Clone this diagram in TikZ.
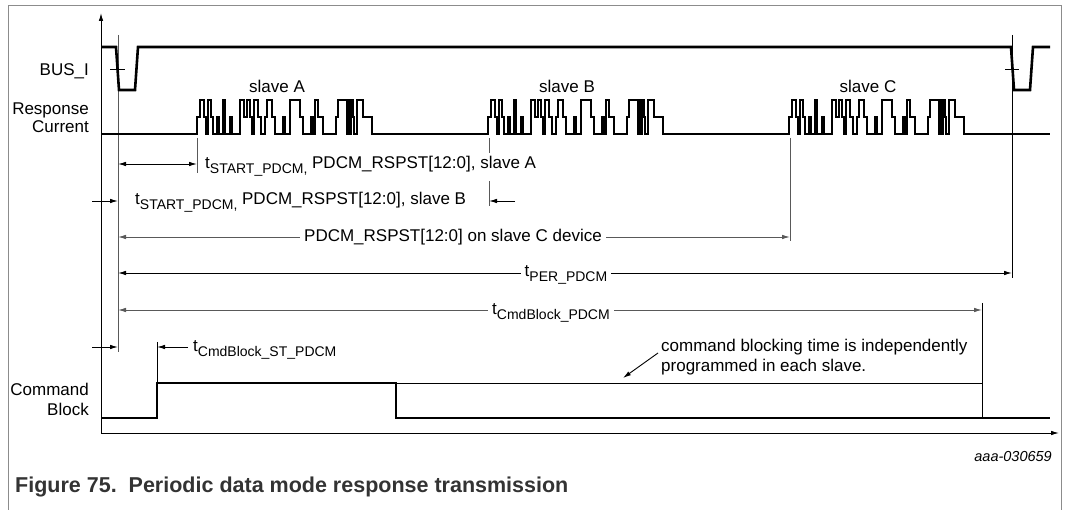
\documentclass[tikz,border=0pt]{standalone}
\usepackage{fontspec}
\setmainfont{Liberation Sans}
\usetikzlibrary{arrows.meta}
\newcommand\tsb[1]{t\raisebox{-5pt}{\fontsize{14}{16}\selectfont #1}}
\def\pat{0/117,3/100,7/117,9/134,11/100,14/117,16/134,20/117,22/134,26/100,28/134,33/117,35/134,43/100,47/117,50/100,53/117,55/134,57/100,61/117,64/134,68/117,70/100,75/117,78/134,86/117,88/134,93/100,103/117,106/134,114/117,116/134,118/100,121/117,126/134,139/117,141/100,150/134,151/100,153/134,154/100,156/117,157/134,160/100,166/117,175/134}
\begin{document}
\begin{tikzpicture}[x=1pt,y=-1pt,
  every node/.style={font=\fontsize{17}{20}\selectfont, inner sep=0pt},
  wthick/.style={line width=2.6pt},
  wresp/.style={line width=1.3pt},
  wthin/.style={line width=0.9pt},
  wgrey/.style={line width=0.9pt, draw=black!65},
  tip/.style={-{Latex[length=8pt,width=4.5pt]}},
  dtip/.style={{Latex[length=8pt,width=4.5pt]}-{Latex[length=8pt,width=4.5pt]}},
  lbl/.style={anchor=base west},
  lblgap/.style={fill=white, inner xsep=4pt, inner ysep=4pt, anchor=base}
]
\useasboundingbox (0,0) rectangle (1066,510);
% frame
\draw[line width=0.9pt, black!45] (8,510) -- (8,5) -- (1061,5) -- (1061,510);
% axes
\coordinate (O) at (101,433);
\coordinate (Ytop) at (101,13);
\coordinate (Xend) at (1059,433);
\draw[wthin,tip] (O) -- (Ytop);
\draw[wthin,tip] (O) -- (Xend);
% reference verticals
\coordinate (R1) at (118,35); \coordinate (R2) at (118,352);
\coordinate (Q1) at (1012,35); \coordinate (Q2) at (1012,278);
\draw[wgrey] (R1) -- (R2);
\draw[wthin] (Q1) -- (Q2);
\coordinate (K1) at (110,69); \coordinate (K2) at (125,69);
\coordinate (K3) at (1005,69); \coordinate (K4) at (1019,69);
\draw[wthin] (K1) -- (K2);
\draw[wthin] (K3) -- (K4);
% BUS_I
\draw[wthick] (101,47) -- (116,47) -- (119,90) -- (135,90) -- (138,47) -- (1011,47) -- (1014,90) -- (1030,90) -- (1033,47) -- (1050,47);
% response current
\draw[wresp] (101,134) foreach \s in {197,488,789} { foreach \dx/\yy in \pat { -| ({\s+\dx},\yy) } } -- (1050,134);
% command block
\draw[wthick] (101,418) -- (157,418) -- (157,383) -- (396,383) -- (396,418) -- (1050,418);
\draw[wthin] (396,383) -- (982,383) -- (982,418);
% ticks
\coordinate (TA1) at (197,138); \coordinate (TA2) at (197,173);
\coordinate (TB1) at (489,138); \coordinate (TB2) at (489,206);
\coordinate (TC1) at (790,138); \coordinate (TC2) at (790,241);
\coordinate (TD1) at (157,342); \coordinate (TD2) at (157,383);
\coordinate (TE1) at (982,303); \coordinate (TE2) at (982,383);
\draw[wgrey] (TA1) -- (TA2);
\draw[wgrey] (TB1) -- (TB2);
\draw[wgrey] (TC1) -- (TC2);
\draw[wthin] (TD1) -- (TD2);
\draw[wthin] (TE1) -- (TE2);
% arrows
\coordinate (A1) at (118,164); \coordinate (A2) at (197,164);
\draw[wthin,dtip] (A1) -- (A2);
\coordinate (B0) at (92,201); \coordinate (B1) at (118,201);
\coordinate (B2) at (515,201); \coordinate (B3) at (489,201);
\draw[wthin,tip] (B0) -- (B1);
\draw[wthin,tip] (B2) -- (B3);
\coordinate (C1) at (118,237); \coordinate (C2) at (790,237);
\draw[wgrey,dtip] (C1) -- (C2);
\coordinate (P1) at (118,273); \coordinate (P2) at (1012,273);
\draw[wthin,dtip] (P1) -- (P2);
\coordinate (D1) at (118,310); \coordinate (D2) at (982,310);
\draw[wgrey,dtip] (D1) -- (D2);
\coordinate (S0) at (92,347); \coordinate (S1) at (118,347);
\coordinate (S2) at (188,347); \coordinate (S3) at (157,347);
\draw[wthin,tip] (S0) -- (S1);
\draw[wthin,tip] (S2) -- (S3);
\coordinate (N1) at (658,353); \coordinate (N2) at (623,378);
\draw[wthin,tip] (N1) -- (N2);
% labels
\node[anchor=base east] (lbus) at (89,76) {BUS\_I};
\node[anchor=base east] (lresp) at (89,115) {Response};
\node[anchor=base east] (lcur) at (89,133) {Current};
\node[anchor=base east] (lcmd) at (89,396) {Command};
\node[anchor=base east] (lblk) at (89,416) {Block};
\node[anchor=base] (sA) at (277,93) {slave A};
\node[anchor=base] (sB) at (567,93) {slave B};
\node[anchor=base] (sC) at (868,93) {slave C};
\node[lbl, fill=white, inner xsep=1pt, inner ysep=4pt] (lA) at (204,169) {\tsb{START\_PDCM,} PDCM\_RSPST[12:0], slave A};
\node[lbl] (lB) at (135,205) {\tsb{START\_PDCM,} PDCM\_RSPST[12:0], slave B};
\node[lblgap] (lC) at (453,242) {PDCM\_RSPST[12:0] on slave C device};
\node[lblgap] (lP) at (566,277) {\tsb{PER\_PDCM}};
\node[lblgap] (lD) at (551,315) {\tsb{CmdBlock\_PDCM}};
\node[lbl] (lS) at (193,352) {\tsb{CmdBlock\_ST\_PDCM}};
\node[lbl] (n1) at (661,352) {command blocking time is independently};
\node[lbl] (n2) at (661,372) {programmed in each slave.};
\node[anchor=base east, font=\fontsize{14.5}{16}\selectfont\itshape] (id) at (1052,461) {aaa-030659};
\node[anchor=base west, font=\fontsize{21.5}{24}\selectfont\bfseries, text=black!80] (cap) at (15,493) {Figure 75.\ \ Periodic data mode response transmission};
\end{tikzpicture}
\end{document}
